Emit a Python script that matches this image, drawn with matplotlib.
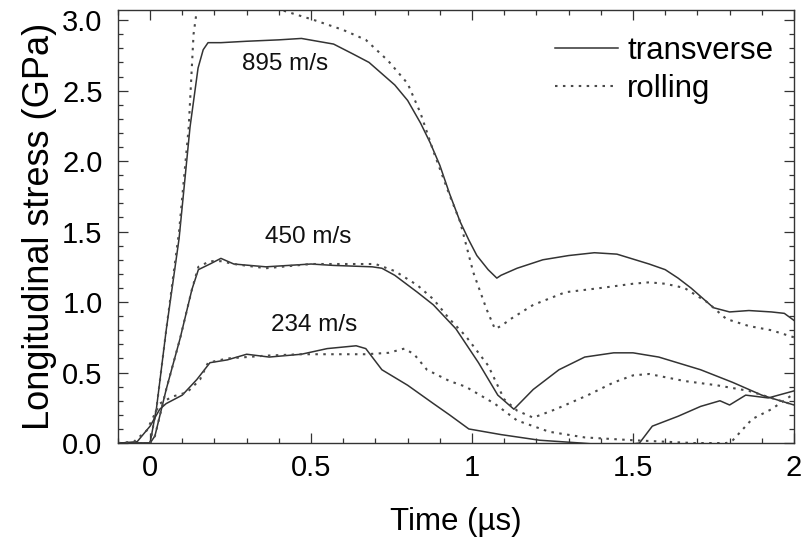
import matplotlib
matplotlib.use('Agg')
import matplotlib.pyplot as plt

plt.rcParams['font.family'] = ['Liberation Sans', 'DejaVu Sans']

# 895 m/s, transverse (solid) and rolling (dotted)
t895_tr = [-0.1, 0.0, 0.02, 0.05, 0.09, 0.124, 0.149, 0.165, 0.18, 0.22, 0.3, 0.4, 0.47,
           0.52, 0.57, 0.63, 0.68, 0.72, 0.76, 0.80, 0.84, 0.87, 0.90, 0.93, 0.963, 0.99,
           1.015, 1.05, 1.077, 1.09, 1.14, 1.22, 1.30, 1.38, 1.45, 1.55, 1.60, 1.64, 1.68,
           1.72, 1.75, 1.80, 1.86, 1.93, 1.97, 2.0]
s895_tr = [0.0, 0.0, 0.25, 0.8, 1.45, 2.24, 2.66, 2.79, 2.84, 2.84, 2.85, 2.86, 2.87,
           2.85, 2.83, 2.76, 2.70, 2.62, 2.54, 2.43, 2.27, 2.13, 1.97, 1.77, 1.57, 1.44,
           1.33, 1.23, 1.17, 1.19, 1.24, 1.30, 1.33, 1.35, 1.34, 1.27, 1.23, 1.17, 1.10,
           1.02, 0.96, 0.93, 0.94, 0.93, 0.92, 0.87]
t895_ro = [-0.1, 0.0, 0.02, 0.05, 0.09, 0.12, 0.135, 0.15, 0.18, 0.25, 0.35, 0.41, 0.51,
           0.60, 0.67, 0.74, 0.80, 0.84, 0.88, 0.93, 0.963, 1.004, 1.045, 1.071, 1.09, 1.12,
           1.19, 1.29, 1.40, 1.50, 1.55, 1.60, 1.66, 1.73, 1.79, 1.86, 1.93, 2.0]
s895_ro = [0.0, 0.0, 0.25, 0.8, 1.5, 2.24, 2.9, 3.15, 3.3, 3.35, 3.25, 3.07, 3.0,
           2.93, 2.86, 2.71, 2.55, 2.34, 2.07, 1.76, 1.57, 1.21, 0.95, 0.81, 0.83, 0.88,
           0.98, 1.07, 1.10, 1.13, 1.14, 1.13, 1.10, 1.0, 0.88, 0.83, 0.80, 0.75]

# 450 m/s
t450_tr = [-0.1, 0.0, 0.015, 0.05, 0.093, 0.13, 0.15, 0.186, 0.22, 0.26, 0.36, 0.43, 0.50,
           0.57, 0.69, 0.72, 0.76, 0.83, 0.88, 0.95, 1.02, 1.08, 1.13, 1.19, 1.27, 1.35,
           1.44, 1.50, 1.58, 1.71, 1.81, 1.90, 2.0]
s450_tr = [0.0, 0.0, 0.05, 0.38, 0.74, 1.09, 1.23, 1.27, 1.31, 1.27, 1.25, 1.26, 1.27,
           1.26, 1.25, 1.24, 1.19, 1.07, 0.98, 0.81, 0.57, 0.34, 0.24, 0.38, 0.52, 0.61,
           0.64, 0.64, 0.61, 0.52, 0.43, 0.34, 0.27]
t450_ro = [-0.1, 0.0, 0.015, 0.05, 0.093, 0.13, 0.15, 0.186, 0.22, 0.26, 0.36, 0.50, 0.60,
           0.70, 0.76, 0.83, 0.88, 0.93, 0.98, 1.05, 1.10, 1.14, 1.19, 1.26, 1.36, 1.44,
           1.50, 1.55, 1.66, 1.76, 1.86, 2.0]
s450_ro = [0.0, 0.0, 0.05, 0.38, 0.74, 1.09, 1.25, 1.29, 1.29, 1.27, 1.24, 1.27, 1.27,
           1.27, 1.22, 1.12, 1.02, 0.88, 0.76, 0.55, 0.31, 0.23, 0.18, 0.24, 0.34, 0.43,
           0.48, 0.49, 0.44, 0.41, 0.37, 0.27]

# 234 m/s
t234_tr = [-0.1, -0.093, -0.04, 0.0, 0.03, 0.05, 0.10, 0.145, 0.186, 0.24, 0.30, 0.37, 0.47,
           0.55, 0.64, 0.67, 0.72, 0.80, 0.88, 0.93, 0.99, 1.09, 1.21, 1.34, 1.45, 1.52,
           1.56, 1.64, 1.71, 1.77, 1.80, 1.85, 1.92, 2.0]
s234_tr = [0.0, 0.0, 0.01, 0.12, 0.24, 0.28, 0.34, 0.45, 0.57, 0.59, 0.63, 0.61, 0.63,
           0.67, 0.69, 0.67, 0.52, 0.41, 0.28, 0.20, 0.10, 0.06, 0.02, 0.0, -0.02, 0.0,
           0.12, 0.19, 0.26, 0.30, 0.27, 0.34, 0.32, 0.37]
t234_ro = [-0.1, -0.05, -0.01, 0.03, 0.07, 0.115, 0.155, 0.18, 0.24, 0.36, 0.47, 0.57, 0.67,
           0.74, 0.79, 0.82, 0.86, 0.93, 0.98, 1.07, 1.14, 1.24, 1.35, 1.50, 1.69, 1.79,
           1.81, 1.87, 1.93, 2.0]
s234_ro = [0.0, 0.01, 0.09, 0.28, 0.33, 0.36, 0.45, 0.57, 0.60, 0.62, 0.63, 0.63, 0.63,
           0.64, 0.67, 0.63, 0.52, 0.44, 0.40, 0.28, 0.16, 0.08, 0.04, 0.02, 0.0, 0.0,
           0.02, 0.17, 0.24, 0.35]

velocities = ['895 m/s', '450 m/s', '234 m/s']
label_t = [0.42, 0.49, 0.51]
label_s = [2.69, 1.46, 0.84]

solid_c = '#333333'
dot_c = '#4a4a4a'
dotted = (0, (1.2, 2.6))

fig = plt.figure(figsize=(8.02, 5.39), dpi=100)
ax = fig.add_axes([0.147, 0.178, 0.843, 0.803])

ax.plot(t895_tr, s895_tr, color=solid_c, lw=1.1, label='transverse')
ax.plot(t895_ro, s895_ro, color=dot_c, lw=1.5, ls=dotted, label='rolling')
ax.plot(t450_tr, s450_tr, color=solid_c, lw=1.1)
ax.plot(t450_ro, s450_ro, color=dot_c, lw=1.5, ls=dotted)
ax.plot(t234_tr, s234_tr, color=solid_c, lw=1.1)
ax.plot(t234_ro, s234_ro, color=dot_c, lw=1.5, ls=dotted)

for txt, x, y in zip(velocities, label_t, label_s):
    ax.text(x, y, txt, ha='center', va='center', fontsize=17.5, color='#111111')

ax.set_xlim(-0.1, 2.0)
ax.set_ylim(0, 3.07)
ax.set_xticks([0, 0.5, 1, 1.5, 2])
ax.set_xticklabels(['0', '0.5', '1', '1.5', '2'])
ax.set_xticks([x / 10 for x in range(-1, 21)], minor=True)
ax.set_yticks([0, 0.5, 1.0, 1.5, 2.0, 2.5, 3.0])
ax.set_yticklabels(['0.0', '0.5', '1.0', '1.5', '2.0', '2.5', '3.0'])
ax.set_yticks([y / 10 for y in range(0, 31)], minor=True)
ax.tick_params(which='both', direction='in', top=True, right=True, width=0.9, color='#333333')
ax.tick_params(which='major', length=7, labelsize=21)
ax.tick_params(axis='y', which='major', pad=11)
ax.tick_params(axis='x', which='major', pad=8)
ax.tick_params(which='minor', length=3.5)
for sp in ax.spines.values():
    sp.set_linewidth(1.0)
    sp.set_color('#333333')

ax.set_xlabel('Time (µs)', fontsize=22.5, labelpad=18)
ax.set_ylabel('Longitudinal stress (GPa)', fontsize=26, labelpad=4)

ax.legend(loc='upper right', bbox_to_anchor=(1.002, 0.992), frameon=False, fontsize=22.5,
          handlelength=2.0, handletextpad=0.3, labelspacing=0.28, borderpad=0.2)

fig.savefig('out.png', dpi=100)
